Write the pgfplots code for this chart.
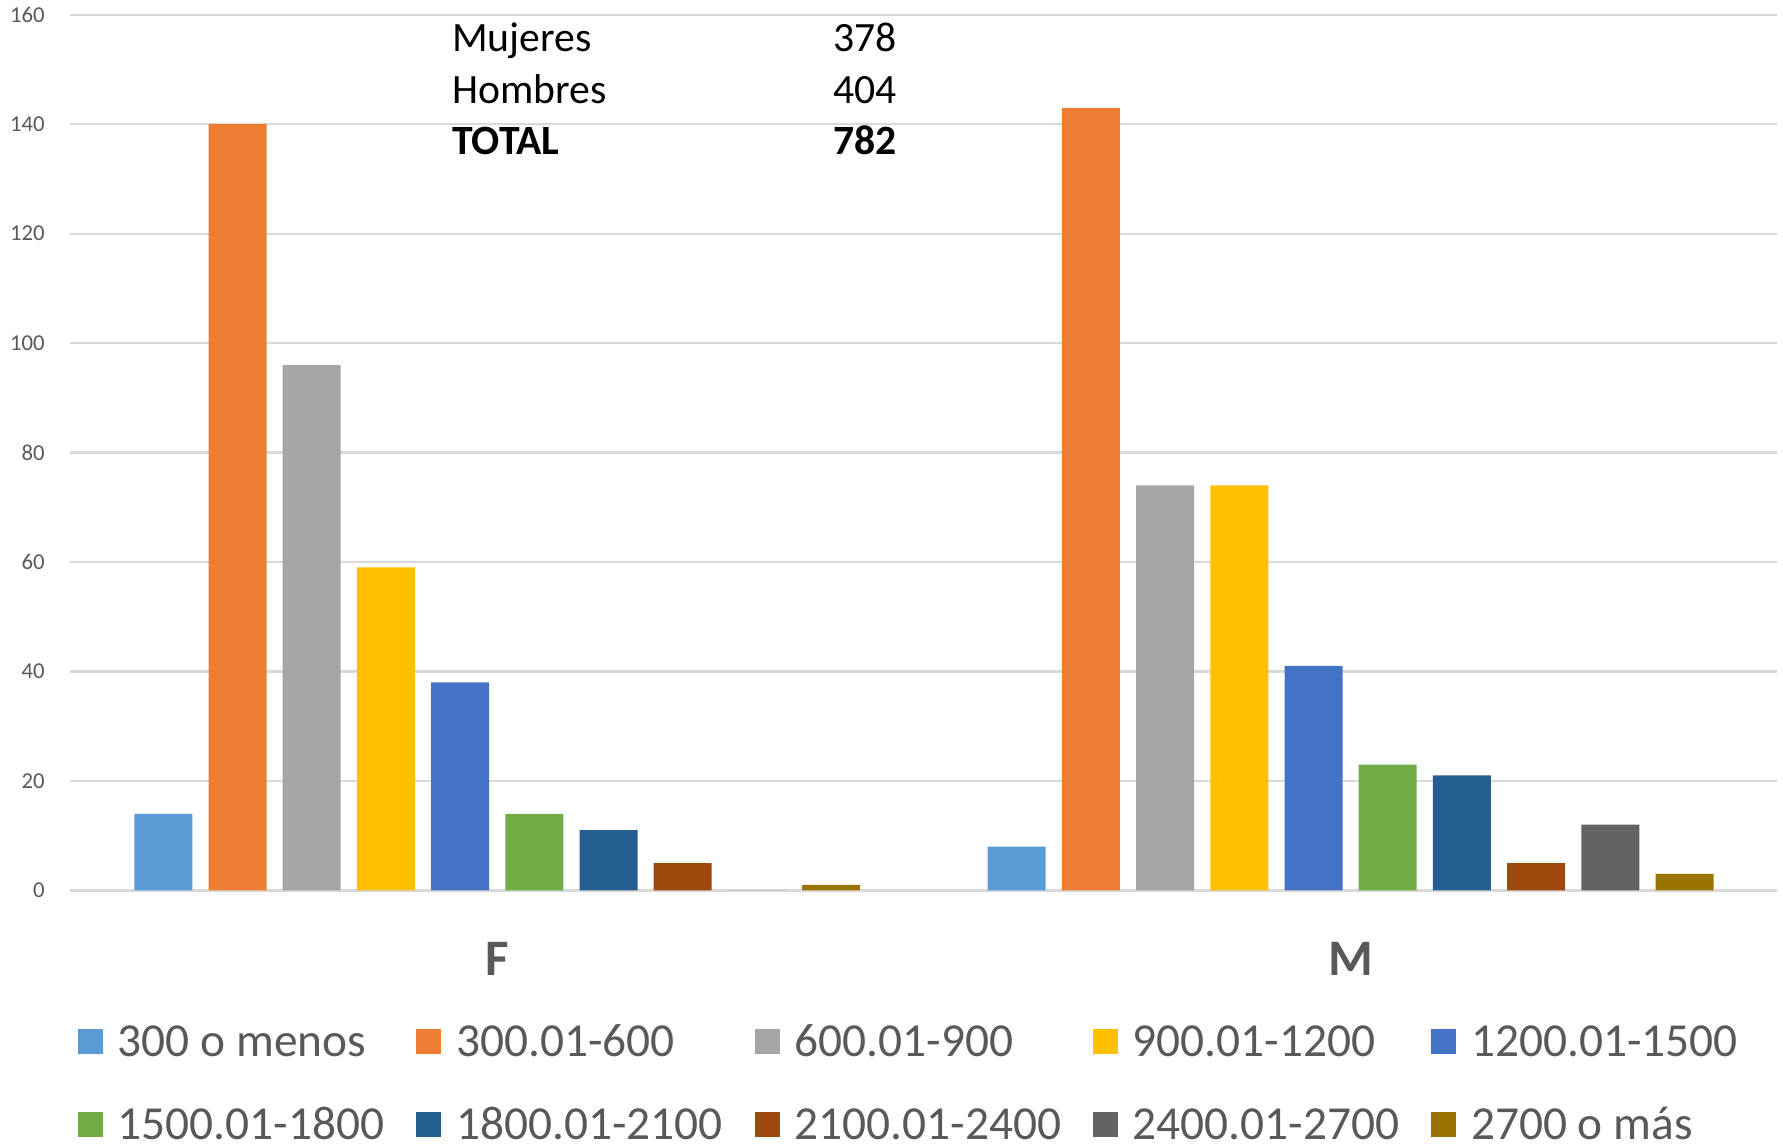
\documentclass[border=0pt]{standalone}
\usepackage{fontspec}
\setmainfont{Carlito}
\usepackage{pgfplots}
\pgfplotsset{compat=1.18}

\definecolor{cA}{HTML}{5B9BD5}
\definecolor{cB}{HTML}{ED7D31}
\definecolor{cC}{HTML}{A5A5A5}
\definecolor{cD}{HTML}{FFC000}
\definecolor{cE}{HTML}{4472C4}
\definecolor{cF}{HTML}{70AD47}
\definecolor{cG}{HTML}{255E91}
\definecolor{cH}{HTML}{9E480E}
\definecolor{cI}{HTML}{636363}
\definecolor{cJ}{HTML}{997300}
\definecolor{gridc}{HTML}{D9D9D9}
\definecolor{txt}{HTML}{595959}

\pgfplotsset{
  salbar/.style={ybar, bar width=15.3pt, bar shift=#1, draw=none},
}

\begin{document}
\begin{tikzpicture}
\useasboundingbox (-18.6pt,-67.5pt) rectangle (451.8pt,234.9pt);
\begin{axis}[
  scale only axis, width=450.3pt, height=231pt,
  xmin=-0.5, xmax=1.5, ymin=0, ymax=160,
  ytick distance=20,
  xtick={0,1}, xticklabels={F,M},
  axis line style={draw=none},
  major tick length=0pt,
  ymajorgrids, grid style={gridc, line width=0.6pt},
  /pgf/number format/assume math mode=true,
  yticklabel style={font=\fontsize{6}{7}\selectfont, text=txt, inner sep=0pt, xshift=-6.6pt},
  xticklabel style={font=\fontsize{13.5}{16}\selectfont\bfseries, text=txt, inner sep=0pt, yshift=-13.5pt},
  legend columns=5,
  legend cell align=left,
  legend image code/.code={\fill[#1] (0pt,-3.3pt) rectangle (6.6pt,3.3pt);},
  legend style={at={(axis description cs:0.004,-0.137)}, anchor=north west,
    draw=none, fill=none, inner sep=0pt,
    font=\fontsize{12.5}{15}\selectfont, text=txt,
    nodes={inner sep=0pt, text height=11.9pt, text depth=4pt, text width=78.75pt, align=flush left},
    /tikz/every odd column/.style={column sep=3.9pt},
    /tikz/every even column/.style={column sep=0pt},
    row sep=6pt},
]
% x = 0: F, x = 1: M
\addplot[salbar=-88.0875pt, fill=cA] coordinates {(0,14) (1,8)};
\addplot[salbar=-68.5125pt, fill=cB] coordinates {(0,140) (1,143)};
\addplot[salbar=-48.9375pt, fill=cC] coordinates {(0,96) (1,74)};
\addplot[salbar=-29.3625pt, fill=cD] coordinates {(0,59) (1,74)};
\addplot[salbar=-9.7875pt, fill=cE] coordinates {(0,38) (1,41)};
\addplot[salbar=9.7875pt, fill=cF] coordinates {(0,14) (1,23)};
\addplot[salbar=29.3625pt, fill=cG] coordinates {(0,11) (1,21)};
\addplot[salbar=48.9375pt, fill=cH] coordinates {(0,5) (1,5)};
\addplot[salbar=68.5125pt, fill=cI] coordinates {(0,0) (1,12)};
\addplot[salbar=88.0875pt, fill=cJ] coordinates {(0,1) (1,3)};
\legend{300 o menos,300.01-600,600.01-900,900.01-1200,1200.01-1500,
  1500.01-1800,1800.01-2100,2100.01-2400,2400.01-2700,2700 o más}

\begin{scope}[every node/.style={inner sep=0pt, font=\fontsize{11}{13}\selectfont}]
\node[anchor=base west] at (axis cs:-0.0536,153.2) {Mujeres};
\node[anchor=base west] at (axis cs:-0.0536,143.7) {Hombres};
\node[anchor=base west, font=\fontsize{11}{13}\selectfont\bfseries] at (axis cs:-0.0536,134.5) {TOTAL};
\node[anchor=base east] at (axis cs:0.4687,153.2) {378};
\node[anchor=base east] at (axis cs:0.4687,143.7) {404};
\node[anchor=base east, font=\fontsize{11}{13}\selectfont\bfseries] at (axis cs:0.4687,134.5) {782};
\end{scope}
\end{axis}
\end{tikzpicture}
\end{document}
